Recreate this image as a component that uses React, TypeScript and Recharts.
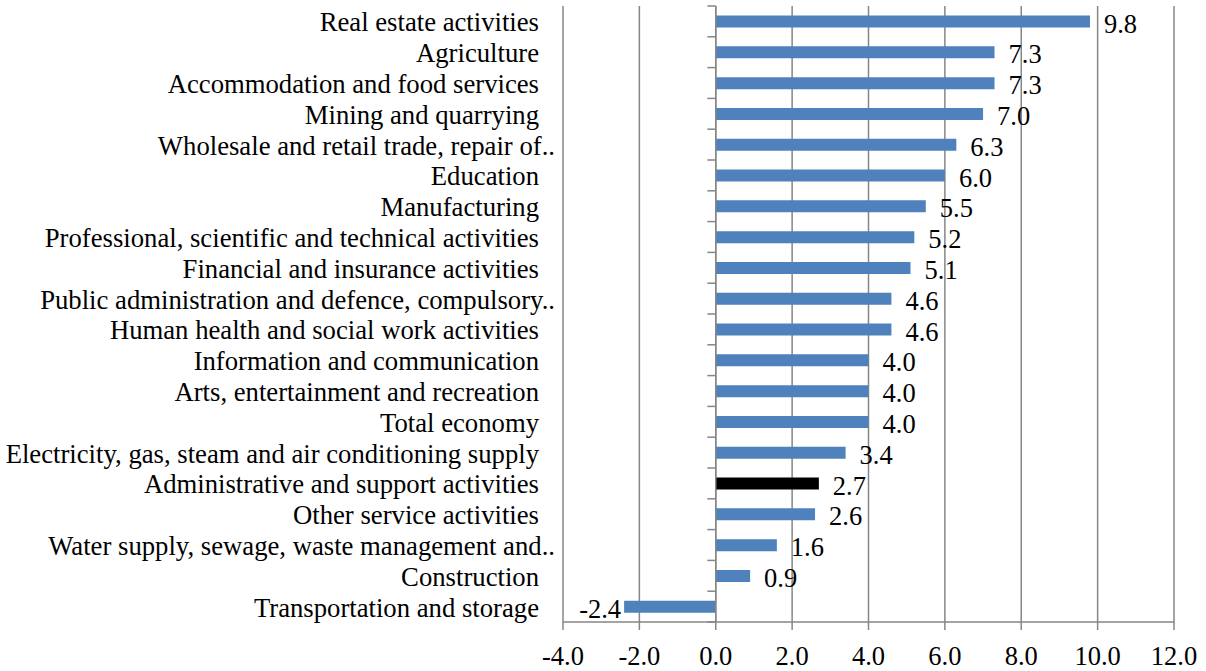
import React from 'react';
import { BarChart, Bar, XAxis, YAxis, CartesianGrid, ReferenceLine, Cell, LabelList } from 'recharts';

const categories = [
  'Real estate activities',
  'Agriculture',
  'Accommodation and food services',
  'Mining and quarrying',
  'Wholesale and retail trade, repair of..',
  'Education',
  'Manufacturing',
  'Professional, scientific and technical activities',
  'Financial and insurance activities',
  'Public administration and defence, compulsory..',
  'Human health and social work activities',
  'Information and communication',
  'Arts, entertainment and recreation',
  'Total economy',
  'Electricity, gas, steam and air conditioning supply',
  'Administrative and support activities',
  'Other service activities',
  'Water supply, sewage, waste management and..',
  'Construction',
  'Transportation and storage',
];

const values = [9.8, 7.3, 7.3, 7.0, 6.3, 6.0, 5.5, 5.2, 5.1, 4.6, 4.6, 4.0, 4.0, 4.0, 3.4, 2.7, 2.6, 1.6, 0.9, -2.4];

const xTicks = [-4, -2, 0, 2, 4, 6, 8, 10, 12];

const highlighted = 'Administrative and support activities';

const data = categories.map((name, i) => ({ name, value: values[i] }));

const FONT = '"Liberation Serif", "Times New Roman", Times, serif';
const GRID = '#868686';
const BLUE = '#4F81BD';
const TICK_LEN = -0.22;

const CategoryTick = (props: any) => {
  const { x, y, payload } = props;
  const label: string = String(payload.value);
  const truncated = label.endsWith('..');
  return (
    <text
      x={x + (truncated ? 16 : 0)}
      y={y + 10}
      textAnchor="end"
      fontSize={26.7}
      fontFamily={FONT}
      style={{ fontFamily: FONT }}
      fill="#000"
    >
      {label}
    </text>
  );
};

const ValueLabel = (props: any) => {
  const { x, y, width, height, value } = props;
  const v = Number(value);
  const left = Math.min(x, x + width);
  const right = Math.max(x, x + width);
  const cy = y + height / 2;
  const neg = v < 0;
  return (
    <text
      x={neg ? left - 3 : right + 14}
      y={cy + 11}
      textAnchor={neg ? 'end' : 'start'}
      fontSize={26.5}
      fontFamily={FONT}
      style={{ fontFamily: FONT }}
      fill="#000"
    >
      {v.toFixed(1)}
    </text>
  );
};

export default function App() {
  const last = categories[categories.length - 1];
  return (
    <div style={{ position: 'absolute', left: 0, top: 0, width: 1206, height: 671, background: '#fff', fontFamily: FONT }}>
      <BarChart
        width={1206}
        height={671}
        data={data}
        layout="vertical"
        margin={{ top: 6, right: 32, bottom: 0, left: 0 }}
        barCategoryGap="31%"
      >
        <CartesianGrid horizontal={false} vertical={true} stroke={GRID} strokeWidth={1.5} />
        <XAxis
          type="number"
          domain={[-4, 12]}
          ticks={xTicks}
          interval={0}
          allowDataOverflow
          tickFormatter={(v: number) => v.toFixed(1)}
          height={49}
          tickSize={8}
          tickMargin={16}
          axisLine={{ stroke: GRID, strokeWidth: 1.5 }}
          tickLine={{ stroke: GRID, strokeWidth: 1.5 }}
          tick={{ fontSize: 26.5, fontFamily: FONT, fill: '#000' }}
        />
        <YAxis
          type="category"
          dataKey="name"
          width={563}
          axisLine={false}
          tickLine={false}
          tickSize={0}
          tickMargin={24}
          interval={0}
          tick={<CategoryTick />}
        />
        <ReferenceLine x={0} stroke={GRID} strokeWidth={1.5} />
        {categories.map((c) => (
          <ReferenceLine
            key={'t-' + c}
            segment={[{ x: TICK_LEN, y: c }, { x: 0, y: c }]}
            position="start"
            stroke={GRID}
            strokeWidth={1.5}
            ifOverflow="visible"
          />
        ))}
        <ReferenceLine
          segment={[{ x: TICK_LEN, y: last }, { x: 0, y: last }]}
          position="end"
          stroke={GRID}
          strokeWidth={1.5}
          ifOverflow="visible"
        />
        <Bar dataKey="value" isAnimationActive={false}>
          {data.map((d) => (
            <Cell key={d.name} fill={d.name === highlighted ? '#000000' : BLUE} />
          ))}
          <LabelList dataKey="value" content={<ValueLabel />} />
        </Bar>
      </BarChart>
    </div>
  );
}
